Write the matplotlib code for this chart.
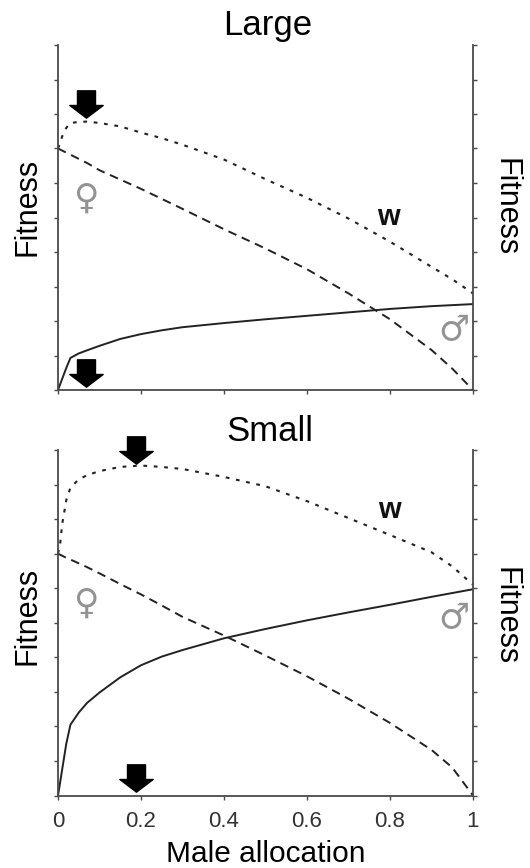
import numpy as np
import matplotlib
matplotlib.use('Agg')
import matplotlib.pyplot as plt
from matplotlib.path import Path

plt.rcParams['font.family'] = ['Liberation Sans', 'DejaVu Sans']

# male allocation grid, shared by both panels
alloc = [0, 0.005, 0.01, 0.02, 0.03, 0.05, 0.07, 0.1, 0.15, 0.2, 0.25,
         0.3, 0.4, 0.5, 0.6, 0.7, 0.8, 0.9, 0.95, 1.0]

# Large plants
large_male = [0, 0.016, 0.032, 0.064, 0.093, 0.106, 0.115, 0.128, 0.148, 0.162, 0.173,
              0.182, 0.194, 0.205, 0.215, 0.225, 0.235, 0.243, 0.246, 0.249]
large_female = [0.70, 0.697, 0.694, 0.688, 0.682, 0.670, 0.658, 0.637, 0.610, 0.583, 0.554,
                0.525, 0.466, 0.41, 0.35, 0.28, 0.205, 0.116, 0.062, 0.0]
large_w = [0.70, 0.715, 0.735, 0.760, 0.774, 0.777, 0.778, 0.774, 0.764, 0.746, 0.730,
           0.711, 0.668, 0.611, 0.557, 0.497, 0.430, 0.357, 0.321, 0.28]

# Small plants
small_male = [0, 0.037, 0.075, 0.15, 0.205, 0.24, 0.268, 0.298, 0.342, 0.377, 0.402,
              0.421, 0.455, 0.482, 0.507, 0.530, 0.552, 0.575, 0.586, 0.597]
small_female = [0.70, 0.697, 0.694, 0.688, 0.683, 0.672, 0.661, 0.643, 0.612, 0.582, 0.550,
                0.517, 0.463, 0.405, 0.345, 0.280, 0.210, 0.132, 0.081, 0.0]
small_w = [0.70, 0.726, 0.785, 0.855, 0.891, 0.915, 0.927, 0.939, 0.951, 0.955, 0.951,
           0.945, 0.922, 0.895, 0.852, 0.803, 0.754, 0.704, 0.663, 0.61]

# optimal allocation arrows (x, y of top arrow, y of bottom arrow)
large_arrow = (0.067, 0.829, 0.048)
small_arrow = (0.187, 1.001, 0.05)

# label positions (w, female, male)
large_labels = [(0.796, 0.502), (0.067, 0.556), (0.953, 0.174)]
small_labels = [(0.798, 0.826), (0.067, 0.556), (0.953, 0.513)]

x_ticks = [0, 0.2, 0.4, 0.6, 0.8, 1.0]
x_ticklabels = ['0', '0.2', '0.4', '0.6', '0.8', '1']

# block arrow pointing down
arrow_verts = [(-0.27, 0.41), (0.27, 0.41), (0.27, -0.03), (0.5, -0.03), (0, -0.41),
               (-0.5, -0.03), (-0.27, -0.03), (-0.27, 0.41)]
arrow_marker = Path(arrow_verts, [Path.MOVETO] + [Path.LINETO] * 6 + [Path.CLOSEPOLY])

W, H = 530, 868
fig = plt.figure(figsize=(W / 100, H / 100), dpi=100)

ax_top = fig.add_axes([58 / W, 1 - 390 / H, 415 / W, 345 / H])
ax_bot = fig.add_axes([58 / W, 1 - 795.5 / H, 415 / W, 345.5 / H])

spine_col = '#4a4a4a'
curve_col = '#222222'
sym_font = ['DejaVu Sans']

panels = [
    (ax_top, large_male, large_female, large_w, large_arrow, large_labels),
    (ax_bot, small_male, small_female, small_w, small_arrow, small_labels),
]

for ax, male, female, w, arr, labs in panels:
    ax.plot(alloc, male, color=curve_col, lw=1.4, solid_capstyle='butt', clip_on=False)
    ax.plot(alloc, female, color=curve_col, lw=1.4, dashes=(4.5, 3.0), clip_on=False)
    ax.plot(alloc, w, color=curve_col, lw=1.5, dashes=(1.8, 3.2), clip_on=False)

    ax.plot([arr[0], arr[0]], [arr[1], arr[2]], ls='none', marker=arrow_marker,
            markersize=24, color='black', mec='black', clip_on=False)

    ax.text(labs[0][0], labs[0][1], 'w', fontsize=21, fontweight='bold',
            ha='center', va='center', color='#111111')
    ax.text(labs[1][0], labs[1][1], '\u2640', fontsize=25, ha='center', va='center',
            color='#939393', family=sym_font)
    ax.text(labs[2][0], labs[2][1], '\u2642', fontsize=25, ha='center', va='center',
            color='#939393', family=sym_font)

    ax.set_xlim(0, 1)
    ax.set_ylim(0, 1)
    ax.set_xticks(x_ticks)
    ax.set_yticks(np.arange(0, 1.01, 0.1))
    ax.set_yticklabels([])
    ax.spines['top'].set_visible(False)
    for s in ['left', 'right', 'bottom']:
        ax.spines[s].set_color(spine_col)
        ax.spines[s].set_linewidth(1.3)
    ax.tick_params(direction='out', length=3, width=1, color=spine_col,
                   left=True, right=True, labelsize=16, labelcolor='#333333', pad=8)

ax_top.set_xticklabels([])
ax_bot.set_xticklabels(x_ticklabels)

fig.text(268 / W, 1 - 35 / H, 'Large', fontsize=25, ha='center', va='baseline')
fig.text(270 / W, 1 - 441 / H, 'Small', fontsize=25, ha='center', va='baseline')

for yc in [207, 616]:
    fig.text(27 / W, 1 - yc / H, 'Fitness', fontsize=22, rotation=90,
             ha='center', va='center')
    fig.text(506 / W, 1 - yc / H, 'Fitness', fontsize=22, rotation=270,
             ha='center', va='center')

fig.text(266 / W, 1 - 862 / H, 'Male allocation', fontsize=21.5, ha='center', va='baseline')

fig.savefig('out.png', dpi=100)
